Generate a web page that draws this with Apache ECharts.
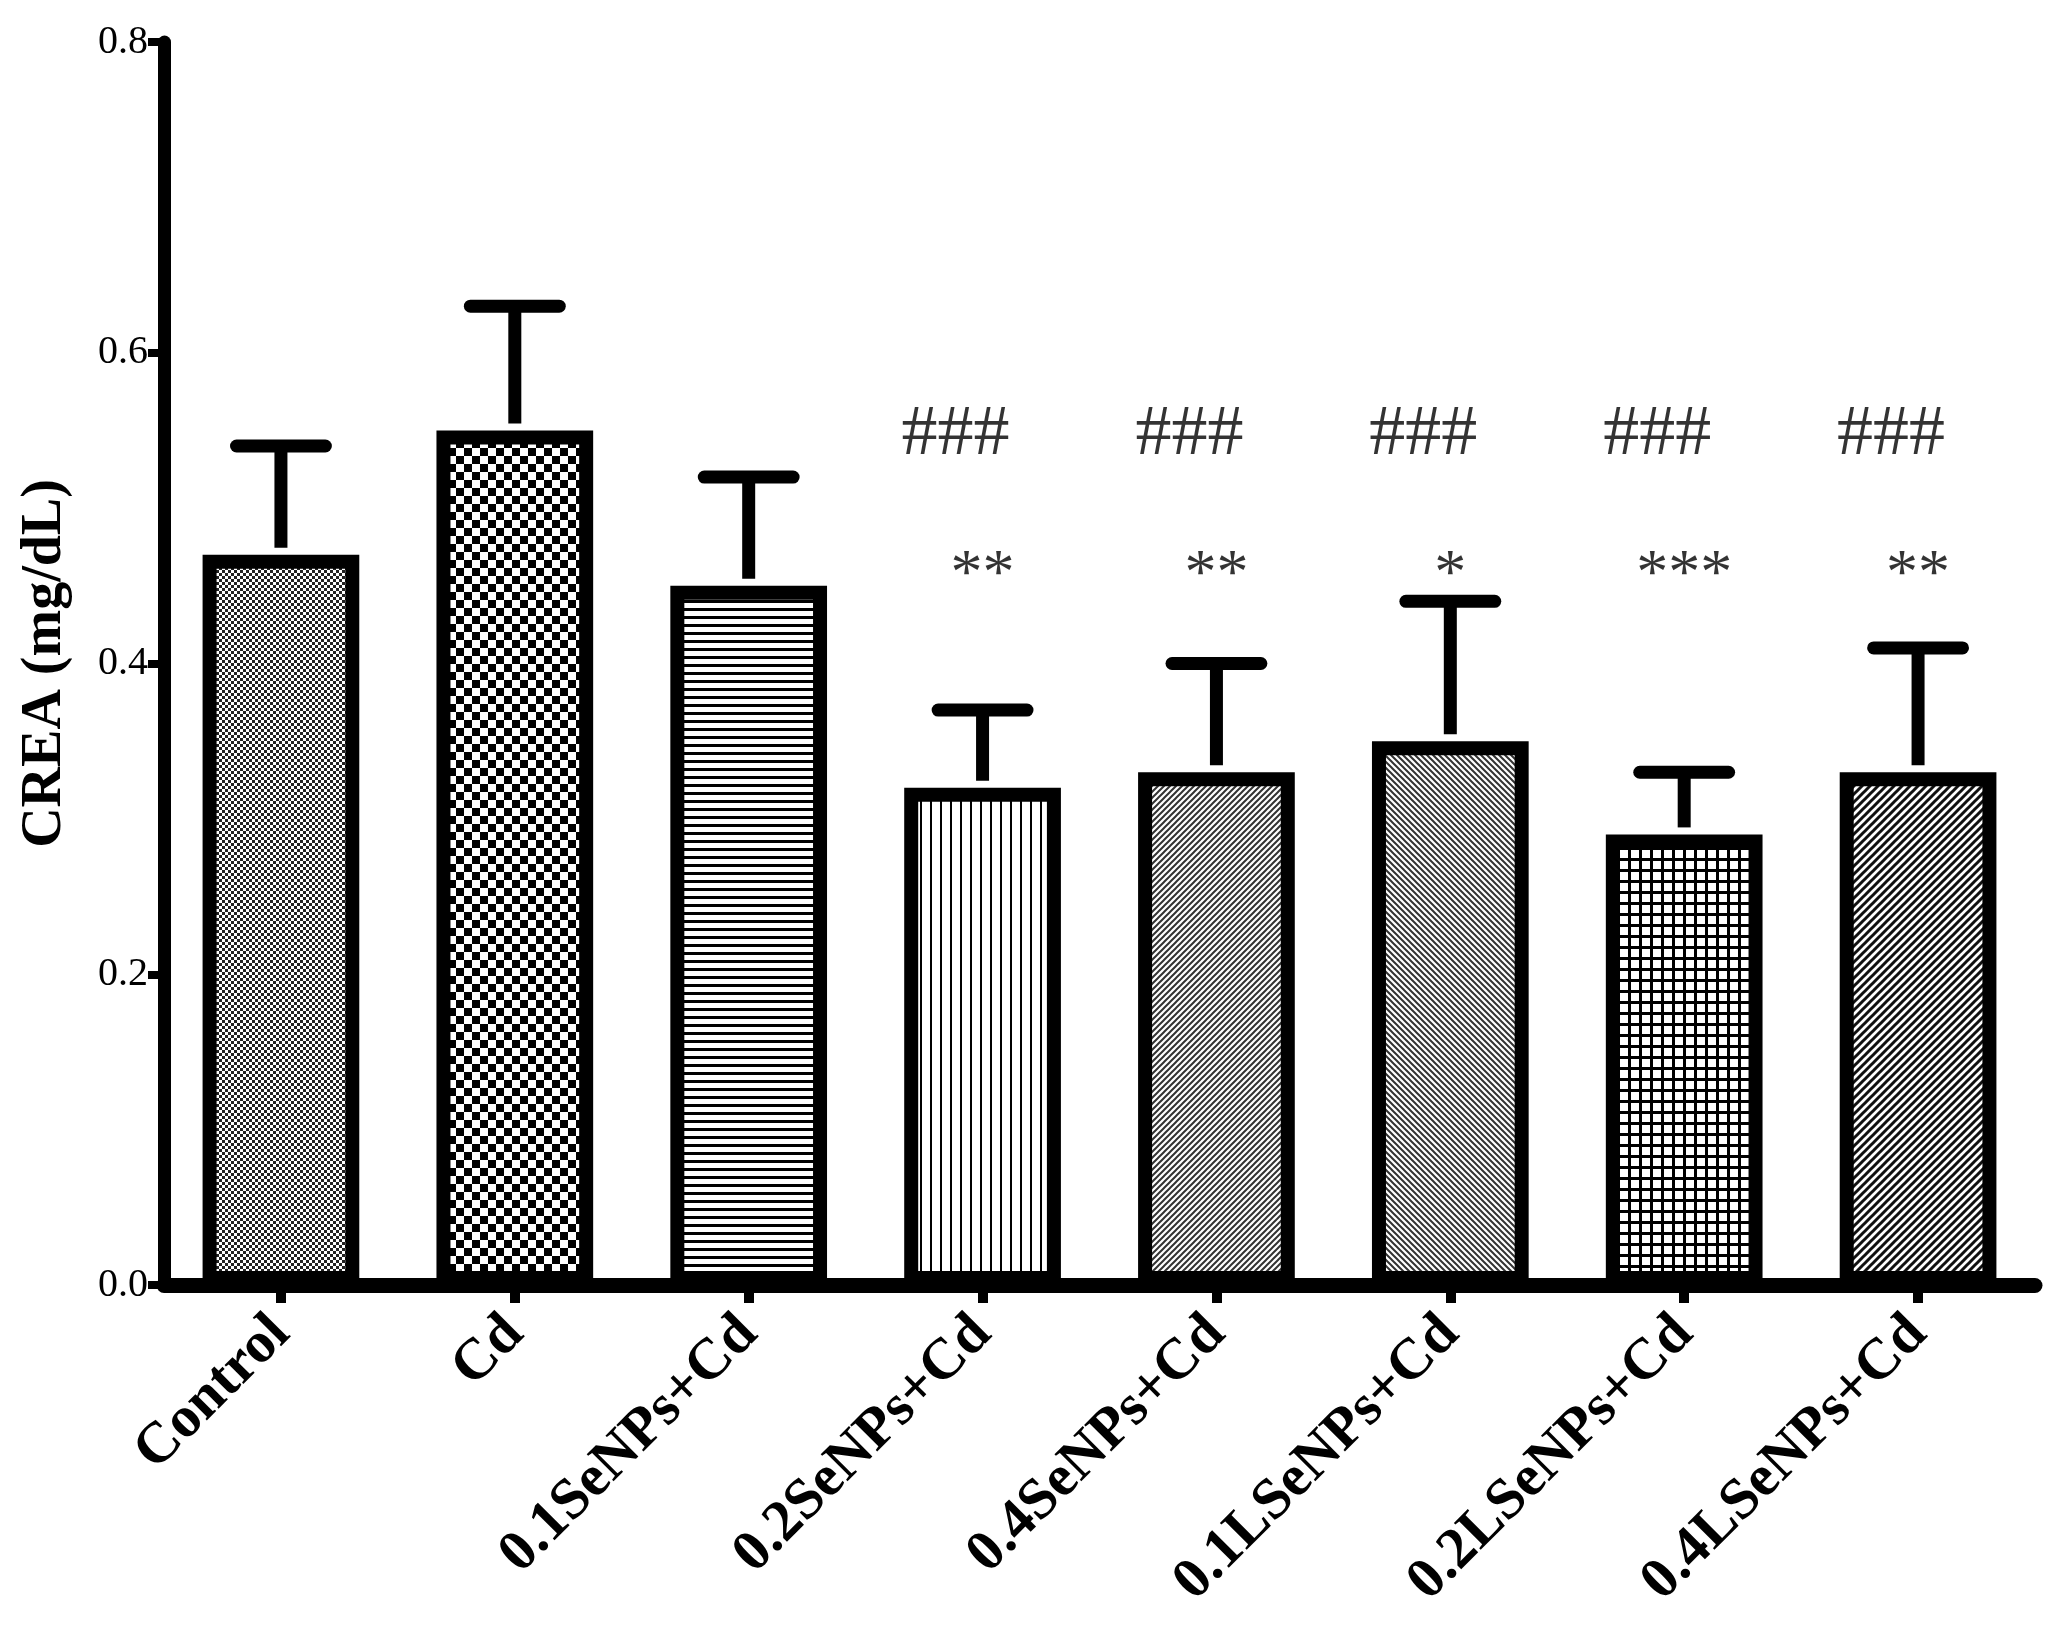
<!DOCTYPE html>
<html>
<head>
<meta charset="utf-8">
<script src="https://cdn.jsdelivr.net/npm/echarts@6/dist/echarts.min.js"></script>
<style>
  html, body { margin: 0; padding: 0; background: #fff; }
  #main { width: 2057px; height: 1630px; }
</style>
</head>
<body>
<div id="main"></div>
<script>
// groups on the x axis
const groups = ['Control', 'Cd', '0.1SeNPs+Cd', '0.2SeNPs+Cd', '0.4SeNPs+Cd',
  '0.1LSeNPs+Cd', '0.2LSeNPs+Cd', '0.4LSeNPs+Cd'];
// CREA mean and mean + SD, mg/dL
const means = [0.47, 0.55, 0.45, 0.32, 0.33, 0.35, 0.29, 0.33];
const upper = [0.54, 0.63, 0.52, 0.37, 0.40, 0.44, 0.33, 0.41];
// significance marks
const hashMarks = ['', '', '', '###', '###', '###', '###', '###'];
const starMarks = ['', '', '', '**', '**', '*', '***', '**'];
const hashLevel = 0.547;
const starLevel = 0.456;
const yTicks = [0, 0.2, 0.4, 0.6, 0.8];

const SERIF = '"Liberation Serif", "DejaVu Serif", serif';

// fill patterns, one per bar
function tile(size, draw) {
  const c = document.createElement('canvas');
  c.width = size; c.height = size;
  const ctx = c.getContext('2d');
  ctx.fillStyle = '#fff';
  ctx.fillRect(0, 0, size, size);
  ctx.fillStyle = '#000';
  ctx.strokeStyle = '#000';
  draw(ctx, size);
  return { image: c, repeat: 'repeat' };
}
function checker(cell, color) {
  return tile(cell * 2, (ctx) => {
    ctx.fillStyle = color || '#000';
    ctx.fillRect(0, 0, cell, cell);
    ctx.fillRect(cell, cell, cell, cell);
  });
}
function hLines(period, w) {
  return tile(period, (ctx, s) => { ctx.fillRect(0, 0, s, w); });
}
function vLines(period, w) {
  return tile(period, (ctx, s) => { ctx.fillRect(0, 0, w, s); });
}
function grid(period, w) {
  return tile(period, (ctx, s) => { ctx.fillRect(0, 0, s, w); ctx.fillRect(0, 0, w, s); });
}
function diag(period, w, flip, color) {
  return tile(period, (ctx, s) => {
    ctx.strokeStyle = color || '#000';
    ctx.lineWidth = w;
    ctx.beginPath();
    if (!flip) {
      ctx.moveTo(-s, s); ctx.lineTo(s, -s);
      ctx.moveTo(0, s); ctx.lineTo(s, 0);
      ctx.moveTo(0, 2 * s); ctx.lineTo(2 * s, 0);
    } else {
      ctx.moveTo(0, 0); ctx.lineTo(s, s);
      ctx.moveTo(-s, 0); ctx.lineTo(s, 2 * s);
      ctx.moveTo(0, -s); ctx.lineTo(2 * s, s);
    }
    ctx.stroke();
  });
}
const fills = [
  checker(3, '#222'),
  checker(8),
  hLines(8, 3),
  vLines(10, 2),
  diag(6, 2, false, '#333'),
  diag(6, 2, true, '#333'),
  grid(11, 3),
  diag(8, 3, false, '#111')
];

const chart = echarts.init(document.getElementById('main'));

const markLabel = {
  show: true,
  position: 'inside',
  color: '#000',
  textBorderWidth: 0,
  fontFamily: SERIF
};

chart.setOption({
  backgroundColor: '#fff',
  animation: false,
  grid: { left: 164, right: 22, top: 42, bottom: 345 },
  xAxis: {
    type: 'category',
    data: groups,
    axisLine: { lineStyle: { color: '#000', width: 15 } },
    axisTick: { show: true, alignWithLabel: true, length: 18, lineStyle: { color: '#000', width: 10 } },
    axisLabel: {
      interval: 0,
      rotate: 45,
      margin: 40,
      color: '#000',
      fontFamily: SERIF,
      fontWeight: 'bold',
      fontSize: 58
    }
  },
  yAxis: {
    type: 'value',
    min: 0,
    max: 0.8,
    interval: 0.2,
    name: 'CREA (mg/dL)',
    nameLocation: 'middle',
    nameGap: 90,
    nameTextStyle: { color: '#000', fontFamily: SERIF, fontWeight: 'bold', fontSize: 56 },
    axisLine: { show: true, lineStyle: { color: '#000', width: 13, cap: 'round' } },
    axisTick: { show: true, length: 16, lineStyle: { color: '#000', width: 8 } },
    splitLine: { show: false },
    axisLabel: {
      margin: 16,
      color: '#000',
      fontFamily: SERIF,
      fontSize: 40,
      formatter: (v) => yTicks.indexOf(v) >= 0 ? v.toFixed(1) : ''
    }
  },
  series: [
    {
      type: 'bar',
      barWidth: '67%',
      z: 2,
      data: means.map((v, i) => ({
        value: v,
        itemStyle: { color: fills[i], borderColor: '#000', borderWidth: 14 }
      }))
    },
    {
      type: 'custom',
      z: 3,
      data: means.map((v, i) => [i, v, upper[i]]),
      renderItem: (params, api) => {
        const base = api.coord([api.value(0), api.value(1)]);
        const top = api.coord([api.value(0), api.value(2)]);
        const half = api.size([1, 0])[0] * 0.19;
        return {
          type: 'group',
          children: [
            { type: 'line', shape: { x1: base[0], y1: base[1] - 7, x2: top[0], y2: top[1] },
              style: { stroke: '#000', lineWidth: 13 } },
            { type: 'line', shape: { x1: top[0] - half, y1: top[1], x2: top[0] + half, y2: top[1] },
              style: { stroke: '#000', lineWidth: 13, lineCap: 'round' } }
          ]
        };
      }
    },
    {
      type: 'scatter',
      symbolSize: 0,
      z: 4,
      silent: true,
      data: hashMarks.map((t, i) => [i, hashLevel]),
      label: Object.assign({}, markLabel, {
        offset: [-27, 0],
        fontSize: 72,
        formatter: (p) => hashMarks[p.dataIndex]
      })
    },
    {
      type: 'scatter',
      symbolSize: 0,
      z: 4,
      silent: true,
      data: starMarks.map((t, i) => [i, starLevel]),
      label: Object.assign({}, markLabel, {
        offset: [0, 0],
        fontSize: 64,
        formatter: (p) => starMarks[p.dataIndex]
      })
    }
  ]
});
</script>
</body>
</html>
